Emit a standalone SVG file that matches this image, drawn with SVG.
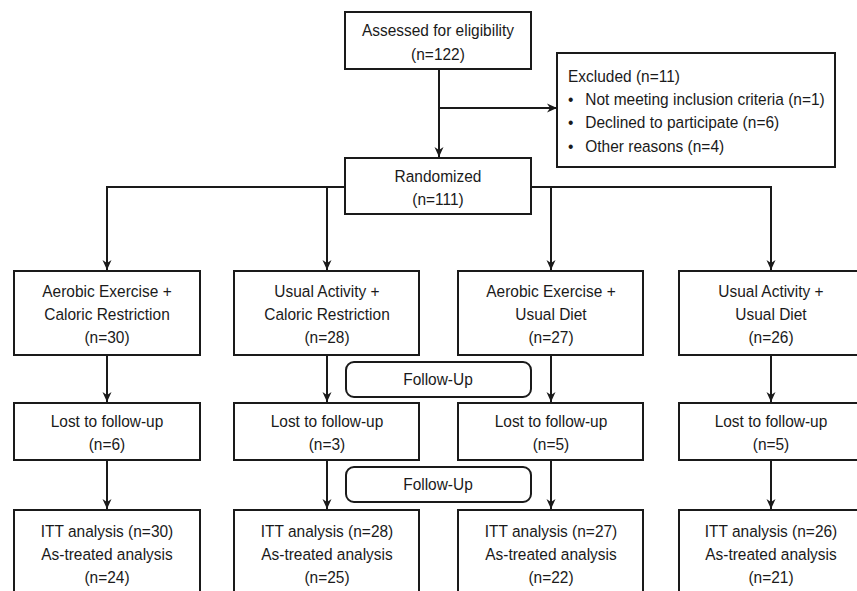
<svg xmlns="http://www.w3.org/2000/svg" width="857" height="591" viewBox="0 0 857 591">
<style>
.box{fill:#fff;stroke:#1a1a1a;stroke-width:2}
.fu{fill:#fff;stroke:#1a1a1a;stroke-width:2}
.t{font-family:"Liberation Sans",Arial,sans-serif;font-size:17px;fill:#1a1a1a;text-anchor:middle}
.tl{font-family:"Liberation Sans",Arial,sans-serif;font-size:17px;fill:#1a1a1a}
.c{fill:none;stroke:#1a1a1a;stroke-width:2}
</style>
<defs>
<marker id="ah" viewBox="0 0 10 10" refX="10" refY="5" markerWidth="10" markerHeight="10" markerUnits="userSpaceOnUse" orient="auto">
<path d="M0,0.5 L10,5 L0,9.5 L3,5 z" fill="#1a1a1a"/>
</marker>
</defs>
<rect width="857" height="591" fill="#fff"/>

<g id="connectors">
<path class="c" d="M439,69 V157" marker-end="url(#ah)"/>
<path class="c" d="M439,108 H557" marker-end="url(#ah)"/>
<path class="c" d="M345,187 H107 V270" marker-end="url(#ah)"/>
<path class="c" d="M327,187 V270" marker-end="url(#ah)"/>
<path class="c" d="M531,187 H771 V270" marker-end="url(#ah)"/>
<path class="c" d="M551,187 V270" marker-end="url(#ah)"/>
<path class="c" d="M107,355 V402" marker-end="url(#ah)"/>
<path class="c" d="M327,355 V402" marker-end="url(#ah)"/>
<path class="c" d="M551,355 V402" marker-end="url(#ah)"/>
<path class="c" d="M771,355 V402" marker-end="url(#ah)"/>
<path class="c" d="M107,460 V509" marker-end="url(#ah)"/>
<path class="c" d="M327,460 V509" marker-end="url(#ah)"/>
<path class="c" d="M551,460 V509" marker-end="url(#ah)"/>
<path class="c" d="M771,460 V509" marker-end="url(#ah)"/>
</g>

<g id="assessed">
<rect class="box" x="345" y="12" width="186" height="57"/>
<g transform="translate(438 0) scale(0.91 1) translate(-438 0)">
<text class="t" x="438" y="36">Assessed for eligibility</text>
<text class="t" x="438" y="60">(n=122)</text>
</g>
</g>

<g id="excluded">
<rect class="box" x="557" y="53" width="278" height="114"/>
<g transform="translate(568 0) scale(0.91 1) translate(-568 0)">
<text class="tl" x="568" y="82">Excluded (n=11)</text>
<text class="tl" x="568" y="105">•</text>
<text class="tl" x="587" y="105">Not meeting inclusion criteria (n=1)</text>
<text class="tl" x="568" y="128">•</text>
<text class="tl" x="587" y="128">Declined to participate (n=6)</text>
<text class="tl" x="568" y="152">•</text>
<text class="tl" x="587" y="152">Other reasons (n=4)</text>
</g>
</g>

<g id="randomized">
<rect class="box" x="345" y="158" width="186" height="56"/>
<g transform="translate(438 0) scale(0.91 1) translate(-438 0)">
<text class="t" x="438" y="182">Randomized</text>
<text class="t" x="438" y="205">(n=111)</text>
</g>
</g>

<g id="arm1">
<rect class="box" x="14" y="271" width="186" height="84"/>
<g transform="translate(107 0) scale(0.91 1) translate(-107 0)">
<text class="t" x="107" y="297">Aerobic Exercise +</text>
<text class="t" x="107" y="320">Caloric Restriction</text>
<text class="t" x="107" y="343">(n=30)</text>
</g>
</g>
<g id="arm2">
<rect class="box" x="234" y="271" width="185" height="84"/>
<g transform="translate(327 0) scale(0.91 1) translate(-327 0)">
<text class="t" x="327" y="297">Usual Activity +</text>
<text class="t" x="327" y="320">Caloric Restriction</text>
<text class="t" x="327" y="343">(n=28)</text>
</g>
</g>
<g id="arm3">
<rect class="box" x="458" y="271" width="185" height="84"/>
<g transform="translate(551 0) scale(0.91 1) translate(-551 0)">
<text class="t" x="551" y="297">Aerobic Exercise +</text>
<text class="t" x="551" y="320">Usual Diet</text>
<text class="t" x="551" y="343">(n=27)</text>
</g>
</g>
<g id="arm4">
<rect class="box" x="679" y="271" width="185" height="84"/>
<g transform="translate(771 0) scale(0.91 1) translate(-771 0)">
<text class="t" x="771" y="297">Usual Activity +</text>
<text class="t" x="771" y="320">Usual Diet</text>
<text class="t" x="771" y="343">(n=26)</text>
</g>
</g>

<g id="followup1">
<rect class="fu" x="346" y="362" width="185" height="35" rx="8" ry="8"/>
<g transform="translate(438 0) scale(0.91 1) translate(-438 0)">
<text class="t" x="438" y="385">Follow-Up</text>
</g>
</g>
<g id="followup2">
<rect class="fu" x="346" y="467" width="185" height="35" rx="8" ry="8"/>
<g transform="translate(438 0) scale(0.91 1) translate(-438 0)">
<text class="t" x="438" y="490">Follow-Up</text>
</g>
</g>

<g id="lost1">
<rect class="box" x="14" y="403" width="186" height="57"/>
<g transform="translate(107 0) scale(0.91 1) translate(-107 0)">
<text class="t" x="107" y="427">Lost to follow-up</text>
<text class="t" x="107" y="450">(n=6)</text>
</g>
</g>
<g id="lost2">
<rect class="box" x="234" y="403" width="185" height="57"/>
<g transform="translate(327 0) scale(0.91 1) translate(-327 0)">
<text class="t" x="327" y="427">Lost to follow-up</text>
<text class="t" x="327" y="450">(n=3)</text>
</g>
</g>
<g id="lost3">
<rect class="box" x="458" y="403" width="185" height="57"/>
<g transform="translate(551 0) scale(0.91 1) translate(-551 0)">
<text class="t" x="551" y="427">Lost to follow-up</text>
<text class="t" x="551" y="450">(n=5)</text>
</g>
</g>
<g id="lost4">
<rect class="box" x="679" y="403" width="185" height="57"/>
<g transform="translate(771 0) scale(0.91 1) translate(-771 0)">
<text class="t" x="771" y="427">Lost to follow-up</text>
<text class="t" x="771" y="450">(n=5)</text>
</g>
</g>

<g id="itt1">
<rect class="box" x="14" y="510" width="186" height="100"/>
<g transform="translate(107 0) scale(0.91 1) translate(-107 0)">
<text class="t" x="107" y="537">ITT analysis (n=30)</text>
<text class="t" x="107" y="560">As-treated analysis</text>
<text class="t" x="107" y="583">(n=24)</text>
</g>
</g>
<g id="itt2">
<rect class="box" x="234" y="510" width="185" height="100"/>
<g transform="translate(327 0) scale(0.91 1) translate(-327 0)">
<text class="t" x="327" y="537">ITT analysis (n=28)</text>
<text class="t" x="327" y="560">As-treated analysis</text>
<text class="t" x="327" y="583">(n=25)</text>
</g>
</g>
<g id="itt3">
<rect class="box" x="458" y="510" width="185" height="100"/>
<g transform="translate(551 0) scale(0.91 1) translate(-551 0)">
<text class="t" x="551" y="537">ITT analysis (n=27)</text>
<text class="t" x="551" y="560">As-treated analysis</text>
<text class="t" x="551" y="583">(n=22)</text>
</g>
</g>
<g id="itt4">
<rect class="box" x="679" y="510" width="185" height="100"/>
<g transform="translate(771 0) scale(0.91 1) translate(-771 0)">
<text class="t" x="771" y="537">ITT analysis (n=26)</text>
<text class="t" x="771" y="560">As-treated analysis</text>
<text class="t" x="771" y="583">(n=21)</text>
</g>
</g>
</svg>
